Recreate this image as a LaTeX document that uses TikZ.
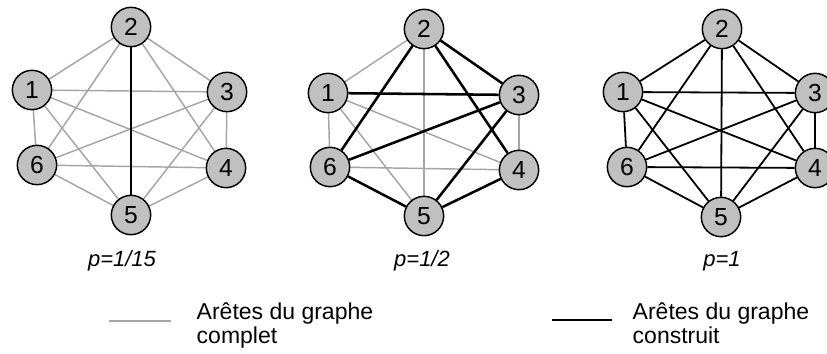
\documentclass[tikz,border=0pt]{standalone}
\usepackage{fontspec}
\setmainfont{Liberation Sans}
\usetikzlibrary{backgrounds}
\definecolor{nodefill}{RGB}{192,192,192}
\definecolor{edgegray}{RGB}{165,165,165}
\begin{document}
\begin{tikzpicture}[x=0.75pt,y=-0.75pt,
 vtx/.style={circle,draw=black,line width=1.1pt,fill=nodefill,minimum size=29.5pt,inner sep=0pt,font=\fontsize{18.5}{20}\selectfont},
 ge/.style={draw=edgegray,line width=1.1pt},
 be/.style={draw=black,line width=1.35pt},
 bthick/.style={draw=black,line width=1.9pt},
 plabel/.style={font=\fontsize{16.5}{19}\selectfont\itshape,anchor=base},
 legtext/.style={font=\fontsize{17.25}{18}\selectfont,anchor=base west,align=left},
 legline/.style={line width=2pt}]
\clip (0,0) rectangle (827,353);
% graph 1
\foreach \n/\x/\y in {1/32/90,2/131/27,3/227/92,4/226/168,5/131/215,6/37/165}
  \node[vtx] (a\n) at (\x,\y) {\n};
% graph 2
\foreach \n/\x/\y in {1/328/93,2/424/29,3/519/95,4/519/170,5/424/216,6/330/167}
  \node[vtx] (b\n) at (\x,\y) {\n};
% graph 3
\foreach \n/\x/\y in {1/623/92,2/722/29,3/815/93,4/815/168,5/721/217,6/627/167}
  \node[vtx] (c\n) at (\x,\y) {\n};
\begin{pgfonlayer}{background}
  \foreach \i/\j in {1/2,1/3,1/4,1/5,1/6,2/3,2/4,2/6,3/4,3/5,3/6,4/5,4/6,5/6}
    \draw[ge] (a\i) -- (a\j);
  \draw[bthick] (a2) -- (a5);
  \foreach \i/\j in {1/2,1/4,1/5,1/6,2/5,3/4,4/6}
    \draw[ge] (b\i) -- (b\j);
  \foreach \i/\j in {2/3,2/4,2/6,1/3,3/6,3/5,5/6,4/5}
    \draw[bthick] (b\i) -- (b\j);
  \foreach \i/\j in {1/2,1/3,1/4,1/5,1/6,2/3,2/4,2/5,2/6,3/4,3/5,3/6,4/5,4/6,5/6}
    \draw[be] (c\i) -- (c\j);
\end{pgfonlayer}
% labels
\node[plabel] (p1) at (122,266) {p=1/15};
\node[plabel] (p2) at (422,266) {p=1/2};
\node[plabel] (p3) at (722,266) {p=1};
% legend
\coordinate (lg1) at (109,321);
\coordinate (lg2) at (171,321);
\draw[legline,edgegray] (lg1) -- (lg2);
\node[legtext] (lt1) at (192,343) {Arêtes du graphe\\complet};
\coordinate (lb1) at (552,320);
\coordinate (lb2) at (612,320);
\draw[legline,black] (lb1) -- (lb2);
\node[legtext] (lt2) at (628,343) {Arêtes du graphe\\construit};
\end{tikzpicture}
\end{document}
